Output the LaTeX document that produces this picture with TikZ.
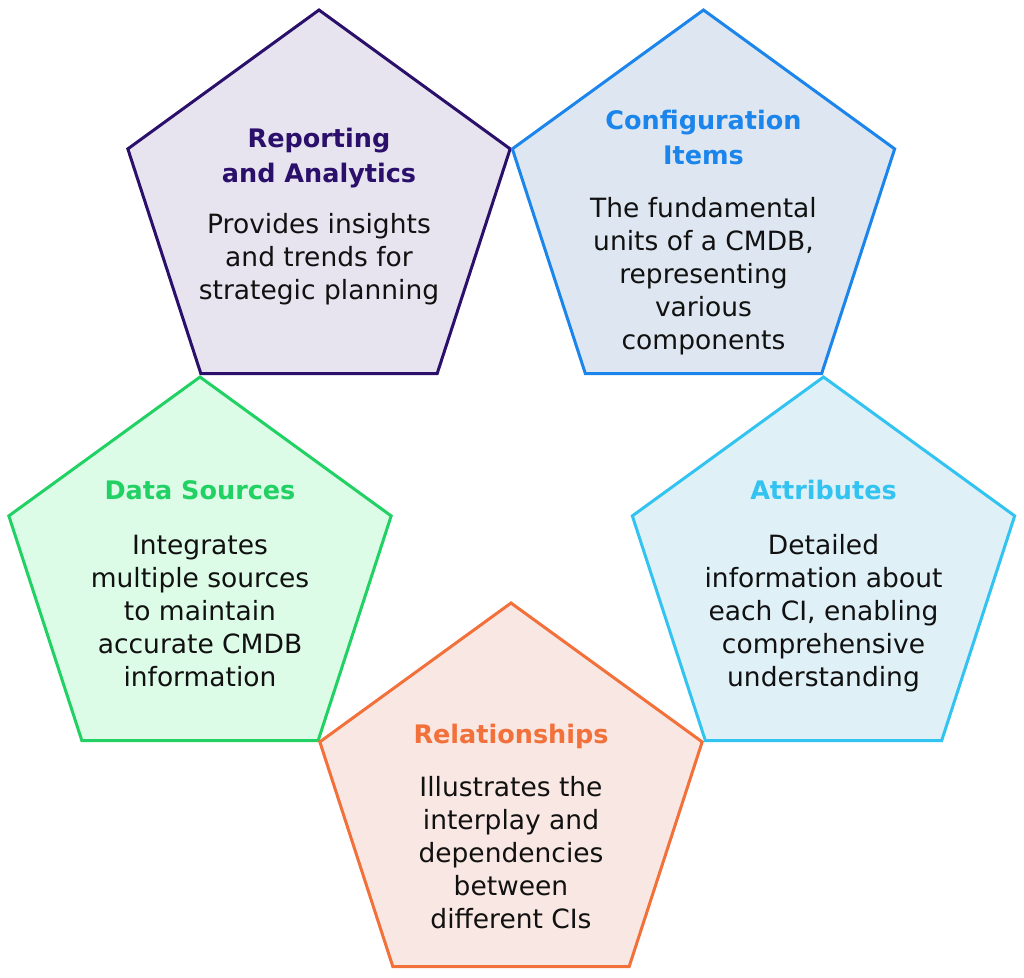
\documentclass[tikz,border=0pt]{standalone}
\usepackage{fontspec}
\setmainfont{DejaVu Sans}
\usetikzlibrary{shapes.geometric}

\definecolor{reportcol}{HTML}{2A0F6B}
\definecolor{reportbg}{HTML}{E7E4EF}
\definecolor{configcol}{HTML}{1B85EB}
\definecolor{configbg}{HTML}{DEE7F1}
\definecolor{attrcol}{HTML}{33C3F0}
\definecolor{attrbg}{HTML}{DFF0F7}
\definecolor{datacol}{HTML}{22D164}
\definecolor{databg}{HTML}{DCFCE7}
\definecolor{relcol}{HTML}{F2703A}
\definecolor{relbg}{HTML}{F8E7E2}
\definecolor{textcol}{HTML}{111111}

\begin{document}
\begin{tikzpicture}[x=1pt, y=-1pt,
  pentagon/.style={regular polygon, regular polygon sides=5, minimum size=402pt, inner sep=0pt, line width=3pt},
  heading/.style={font=\fontsize{25.5}{35}\selectfont\bfseries, align=center, anchor=base},
  blurb/.style={font=\fontsize{26.5}{33}\selectfont, align=center, anchor=base, text=textcol}]

\useasboundingbox (0,0) rectangle (1024,977);

\node[pentagon, draw=reportcol, fill=reportbg] (report) at (319,211) {};
\node[pentagon, draw=configcol, fill=configbg] (config) at (703.5,211) {};
\node[pentagon, draw=datacol, fill=databg] (data) at (200,578) {};
\node[pentagon, draw=attrcol, fill=attrbg] (attr) at (823.5,578) {};
\node[pentagon, draw=relcol, fill=relbg] (rel) at (511,804) {};

\node[heading, text=reportcol] (reporttitle) at (319,182) {Reporting\\and Analytics};
\node[blurb] (reporttext) at (319,299) {Provides insights\\and trends for\\strategic planning};

\node[heading, text=configcol] (configtitle) at (703.5,164) {Configuration\\Items};
\node[blurb] (configtext) at (703.5,349) {The fundamental\\units of a CMDB,\\representing\\various\\components};

\node[heading, text=datacol] (datatitle) at (200,499) {Data Sources};
\node[blurb] (datatext) at (200,686) {Integrates\\multiple sources\\to maintain\\accurate CMDB\\information};

\node[heading, text=attrcol] (attrtitle) at (823.5,499) {Attributes};
\node[blurb] (attrtext) at (823.5,686) {Detailed\\information about\\each CI, enabling\\comprehensive\\understanding};

\node[heading, text=relcol] (reltitle) at (511,743) {Relationships};
\node[blurb] (reltext) at (511,928) {Illustrates the\\interplay and\\dependencies\\between\\different CIs};

\end{tikzpicture}
\end{document}
